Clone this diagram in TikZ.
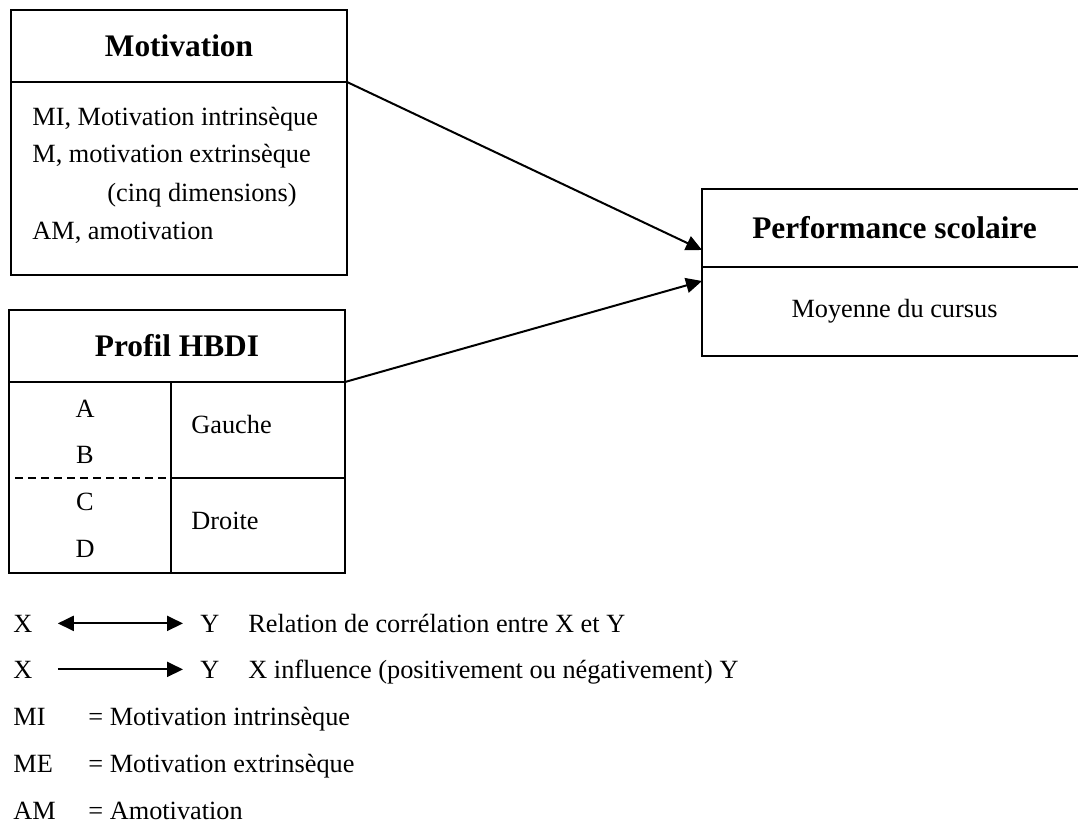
\documentclass[tikz,border=0pt]{standalone}
\usepackage{fontspec}
\setmainfont{Liberation Serif}
\usetikzlibrary{arrows.meta}
\tikzset{
  boite/.style={draw,line width=1pt,anchor=north west,inner sep=0pt,outer sep=0pt},
  titre/.style={font=\fontsize{15.7}{19}\selectfont\bfseries},
  txt/.style={font=\fontsize{13.15}{18}\selectfont,inner sep=0pt},
  fleche/.style={line width=1pt,-{Triangle[length=8pt,width=7.5pt]}},
  dfleche/.style={line width=1pt,{Triangle[length=8pt,width=7.5pt]}-{Triangle[length=8pt,width=7.5pt]}},
  pointille/.style={line width=0.7pt,dash pattern=on 4pt off 2.5pt}
}

\begin{document}
\begin{tikzpicture}[x=0.5pt,y=-0.5pt]
            \useasboundingbox (0,0) rectangle (1078,824);
            \clip (0,0) rectangle (1078,824);
            % Motivation
            \node[boite,titre,minimum width=168pt,minimum height=36pt] (motiv) at (11,10) {Motivation};
            \node[boite,minimum width=168pt,minimum height=96.5pt] (motivB) at (motiv.south west) {};
            \node[txt,anchor=base west] (mi) at (32,126) {MI, Motivation intrinsèque};
            \node[txt,anchor=base west] (me) at (32,163) {M, motivation extrinsèque};
            \node[txt,anchor=base west] (cinq) at (107,202) {(cinq dimensions)};
            \node[txt,anchor=base west] (am) at (32,240) {AM, amotivation};
            % Profil HBDI
            \node[boite,titre,minimum width=168pt,minimum height=36pt] (hbdi) at (9,310) {Profil HBDI};
            \node[boite,minimum width=81pt,minimum height=95.5pt] (abcd) at (hbdi.south west) {};
            \node[boite,txt,minimum width=87pt,minimum height=48pt] (gauche) at (abcd.north east) {};
            \node[boite,txt,minimum width=87pt,minimum height=47.5pt] (droite) at (gauche.south west) {};
            \draw[pointille] (15,478) -- (gauche.south west);
            \node[txt,anchor=base] (a) at (85,417) {A};
            \node[txt,anchor=base] (b) at (85,463) {B};
            \node[txt,anchor=base] (c) at (85,510) {C};
            \node[txt,anchor=base] (d) at (85,557) {D};
            \node[txt,anchor=base west] (g) at (191,433) {Gauche};
            \node[txt,anchor=base west] (dr) at (191,529) {Droite};
            % Performance scolaire
            \node[boite,titre,minimum width=192.5pt,minimum height=39pt] (perf) at (702,189) {Performance scolaire};
            \node[boite,txt,minimum width=192.5pt,minimum height=44.5pt] (perfB) at (perf.south west) {Moyenne du cursus};
            \draw[fleche] (motiv.south east) -- ([yshift=8.5pt]perf.south west);
            \draw[fleche] (hbdi.south east) -- ([yshift=-7pt]perfB.north west);
            % legende
            \node[txt,anchor=base west] (x1) at (13,632) {X};
            \node[txt,anchor=base west] (y1) at (200,632) {Y};
            \node[txt,anchor=base west] (rel) at (248,632) {Relation de corrélation entre X et Y};
            \draw[dfleche] ([xshift=12.5pt]x1.east) -- ([xshift=-8.5pt]y1.west);
            \node[txt,anchor=base west] (x2) at (13,678) {X};
            \node[txt,anchor=base west] (y2) at (200,678) {Y};
            \node[txt,anchor=base west] (infl) at (248,678) {X influence (positivement ou négativement) Y};
            \draw[fleche] ([xshift=12.5pt]x2.east) -- ([xshift=-8.5pt]y2.west);
            \node[txt,anchor=base west] (mi2) at (13,725) {MI};
            \node[txt,anchor=base west] (mi3) at (88,725) {= Motivation intrinsèque};
            \node[txt,anchor=base west] (me2) at (13,772) {ME};
            \node[txt,anchor=base west] (me3) at (88,772) {= Motivation extrinsèque};
            \node[txt,anchor=base west] (am2) at (13,819) {AM};
            \node[txt,anchor=base west] (am3) at (88,819) {= Amotivation};
          \end{tikzpicture}
\end{document}
